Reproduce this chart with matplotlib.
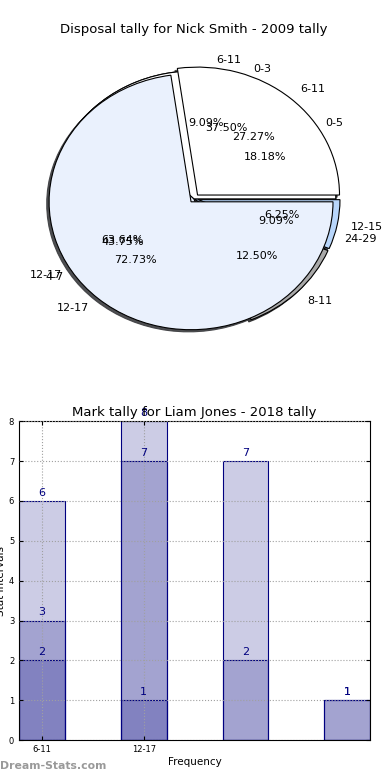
import matplotlib
matplotlib.use('Agg')
import matplotlib.pyplot as plt
import numpy as np

# Данные для круговых диаграмм (три набора рисуются друг поверх друга).
pie_a_labels = ['0-5', '6-11', '12-17', '24-29']
pie_a_values = [2, 1, 7, 1]
pie_b_labels = ['0-3', '4-7', '8-11', '12-15']
pie_b_values = [6, 7, 2, 1]
pie_c_labels = ['6-11', '12-17']
pie_c_values = [3, 8]

# Данные для столбцов (серии накладываются с прозрачностью).
bar_ticklabels = ['6-11', '12-17']
series_1 = [6, 8, 7, 1]
series_2 = [3, 7, 2, 1]
series_3 = [2, 1, 0, 0]

wedge_colors = ['#ffffff', '#eaf1fd', '#a8a8a8', '#b8d6fb']

fig = plt.figure(figsize=(3.9, 7.8), dpi=100)

# Круговая диаграмма
ax1 = fig.add_axes([0.042, 0.54, 0.91, 0.41])
wp = {'edgecolor': 'black', 'linewidth': 0.8}
tp = {'fontsize': 8}
sh = {'ox': -0.012, 'oy': -0.012, 'shade': 0.75, 'alpha': 0.9}
ax1.pie(pie_a_values, labels=pie_a_labels, autopct='%.2f%%', colors=wedge_colors,
        shadow=sh, wedgeprops=wp, textprops=tp)
ax1.pie(pie_b_values, labels=pie_b_labels, autopct='%.2f%%', colors=wedge_colors,
        explode=[0, 0, 0.03, 0.03], shadow=sh, wedgeprops=wp, textprops=tp)
ax1.pie(pie_c_values, labels=pie_c_labels, autopct='%.2f%%', colors=wedge_colors,
        explode=[0.04, 0.03], shadow=sh, wedgeprops=wp, textprops=tp)
ax1.set_aspect('auto')
ax1.set_xlim(-1.25, 1.25)
ax1.set_ylim(-1.25, 1.25)
ax1.set_title('Disposal tally for Nick Smith - 2009 tally', fontsize=9.5, pad=4)

# Столбчатая диаграмма
ax2 = fig.add_axes([0.049, 0.051, 0.9, 0.409])
x = np.arange(len(series_1))
for s in (series_1, series_2, series_3):
    ax2.bar(x, s, width=0.45, color='navy', alpha=0.2, zorder=1)
    ax2.bar(x, s, width=0.45, fill=False, edgecolor='navy', linewidth=0.8, zorder=1)
    for xi, v in zip(x, s):
        if v > 0:
            ax2.text(xi, v + 0.08, str(v), ha='center', va='bottom',
                     color='navy', fontsize=8, zorder=3)

ax2.set_xlim(-0.225, 3.225)
ax2.set_ylim(0, 8)
ax2.set_xticks(np.arange(len(bar_ticklabels)))
ax2.set_xticklabels(bar_ticklabels)
ax2.set_yticks(range(0, 9))
ax2.tick_params(labelsize=6, direction='in', top=True, right=True, length=3)
ax2.grid(True, linestyle=':', color='#a0a0a0', linewidth=0.8, zorder=2)
ax2.set_axisbelow(False)
ax2.set_title('Mark tally for Liam Jones - 2018 tally', fontsize=9.5, pad=4)
ax2.set_xlabel('Frequency', fontsize=7.5, labelpad=2)
ax2.set_ylabel('Stat Intervals', fontsize=7.5, labelpad=2)

# Водяной знак
fig.text(0.0, 0.012, 'Dream-Stats.com', color='#999999', fontsize=7.8,
         fontweight='bold', ha='left', va='bottom')

fig.savefig('out.png', dpi=100)
